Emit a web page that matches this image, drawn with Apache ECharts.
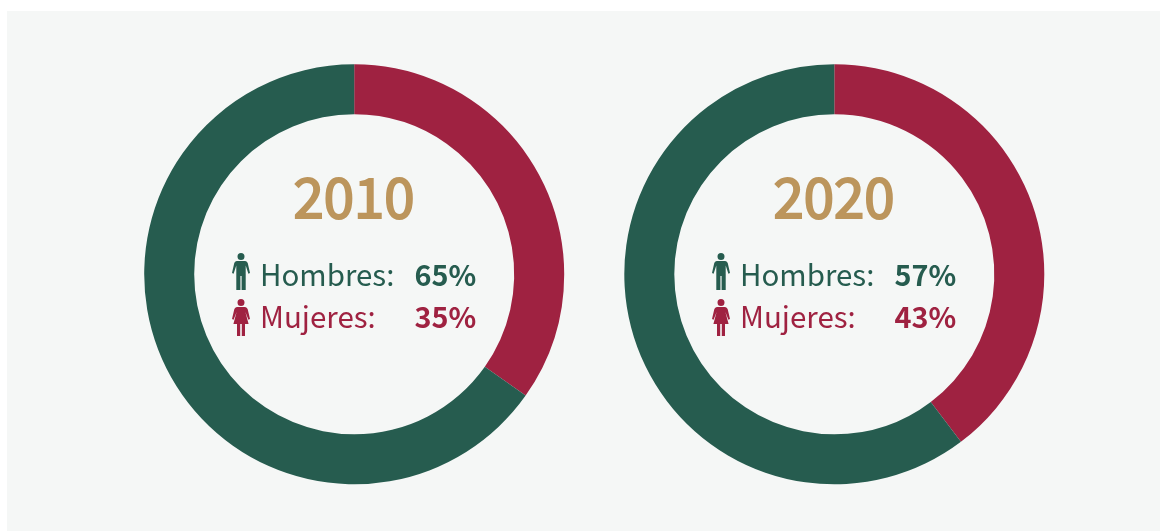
<!DOCTYPE html>
<html>
<head>
<meta charset="utf-8">
<title>Hombres y mujeres</title>
<script src="https://cdn.jsdelivr.net/npm/echarts@6/dist/echarts.min.js"></script>
<style>
html,body{margin:0;padding:0;background:#fff;}
#main{width:1160px;height:531px;}
</style>
</head>
<body>
<div id="main"></div>
<script>
var years = ['2010', '2020'];
// lo que dicen los textos
var hombres = [65, 57];
var mujeres = [35, 43];
// lo que miden los arcos en la imagen (2020 no coincide con su texto)
var arcoHombres = [65.2, 60.3];
var arcoMujeres = [34.8, 39.7];
var labelHombres = 'Hombres:';
var labelMujeres = 'Mujeres:';

var VERDE = '#265c4f', ROJO = '#9f2241', ORO = '#bc955c';
var FONT = '"Noto Sans CJK SC", "Noto Sans", sans-serif';
var centros = [354.2, 834.3];
var CY = 274.3;

// iconos de persona
var ICONO_H = 'M9 0a3.5 3.5 0 1 0 0 7a3.5 3.5 0 1 0 0-7z M5 8H13C14.5 8 15.4 9 15.8 10.3L18 20L16.4 20.8L13.7 12.5V37H9.6V23H8.4V37H4.3V12.5L1.6 20.8L0 20L2.2 10.3C2.6 9 3.5 8 5 8Z';
var ICONO_M = 'M9 0a3.5 3.5 0 1 0 0 7a3.5 3.5 0 1 0 0-7z M5.2 8H12.8C14.3 8 15.2 9 15.7 10.3L18 20L16.4 20.8L13.4 13L16.6 25H13V37H9.8V25H8.2V37H5V25H1.4L4.6 13L1.6 20.8L0 20L2.3 10.3C2.8 9 3.7 8 5.2 8Z';
echarts.graphic.registerShape('iconoH', echarts.graphic.extendPath(ICONO_H, {}));
echarts.graphic.registerShape('iconoM', echarts.graphic.extendPath(ICONO_M, {}));

function texto(x, y, t, size, color, weight, align) {
    return {
        type: 'text', x: x, y: y, silent: true,
        style: {
            text: t, fill: color, fontFamily: FONT, fontSize: size, fontWeight: weight,
            textAlign: align || 'left', textVerticalAlign: 'middle'
        }
    };
}
function icono(tipo, x, y, color) {
    return { type: tipo, x: x, y: y, silent: true, style: { fill: color } };
}

var graphics = [{
    type: 'rect', z: -1, silent: true,
    shape: { x: 7, y: 11, width: 1153, height: 520 },
    style: { fill: '#f5f7f6' }
}];
var series = [];

for (var i = 0; i < years.length; i++) {
    var cx = centros[i];
    series.push({
        type: 'pie',
        center: [cx, CY],
        radius: [160, 210],
        startAngle: 90,
        clockwise: true,
        silent: true,
        label: { show: false },
        labelLine: { show: false },
        itemStyle: { borderWidth: 0 },
        data: [
            { name: 'Mujeres', value: arcoMujeres[i], itemStyle: { color: ROJO } },
            { name: 'Hombres', value: arcoHombres[i], itemStyle: { color: VERDE } }
        ]
    });
    var dx = i * 480;
    var anio = texto(354 + dx, 197, years[i], 54.5, ORO, 400, 'center');
    // el peso medio no esta disponible, se engorda con un trazo fino
    anio.style.stroke = ORO;
    anio.style.lineWidth = 2;
    graphics.push(anio);
    graphics.push(icono('iconoH', 232 + dx, 253, VERDE));
    graphics.push(icono('iconoM', 232 + dx, 299, ROJO));
    graphics.push(texto(260 + dx, 275, labelHombres, 29.5, VERDE, 400));
    graphics.push(texto(260 + dx, 317, labelMujeres, 29.5, ROJO, 400));
    graphics.push(texto(414.5 + dx, 275, hombres[i] + '%', 28.8, VERDE, 700));
    graphics.push(texto(414.5 + dx, 317, mujeres[i] + '%', 28.8, ROJO, 700));
}

var myChart = echarts.init(document.getElementById('main'), null, { renderer: 'canvas' });
myChart.setOption({
    animation: false,
    tooltip: { show: false },
    series: series,
    graphic: graphics
});
</script>
</body>
</html>
